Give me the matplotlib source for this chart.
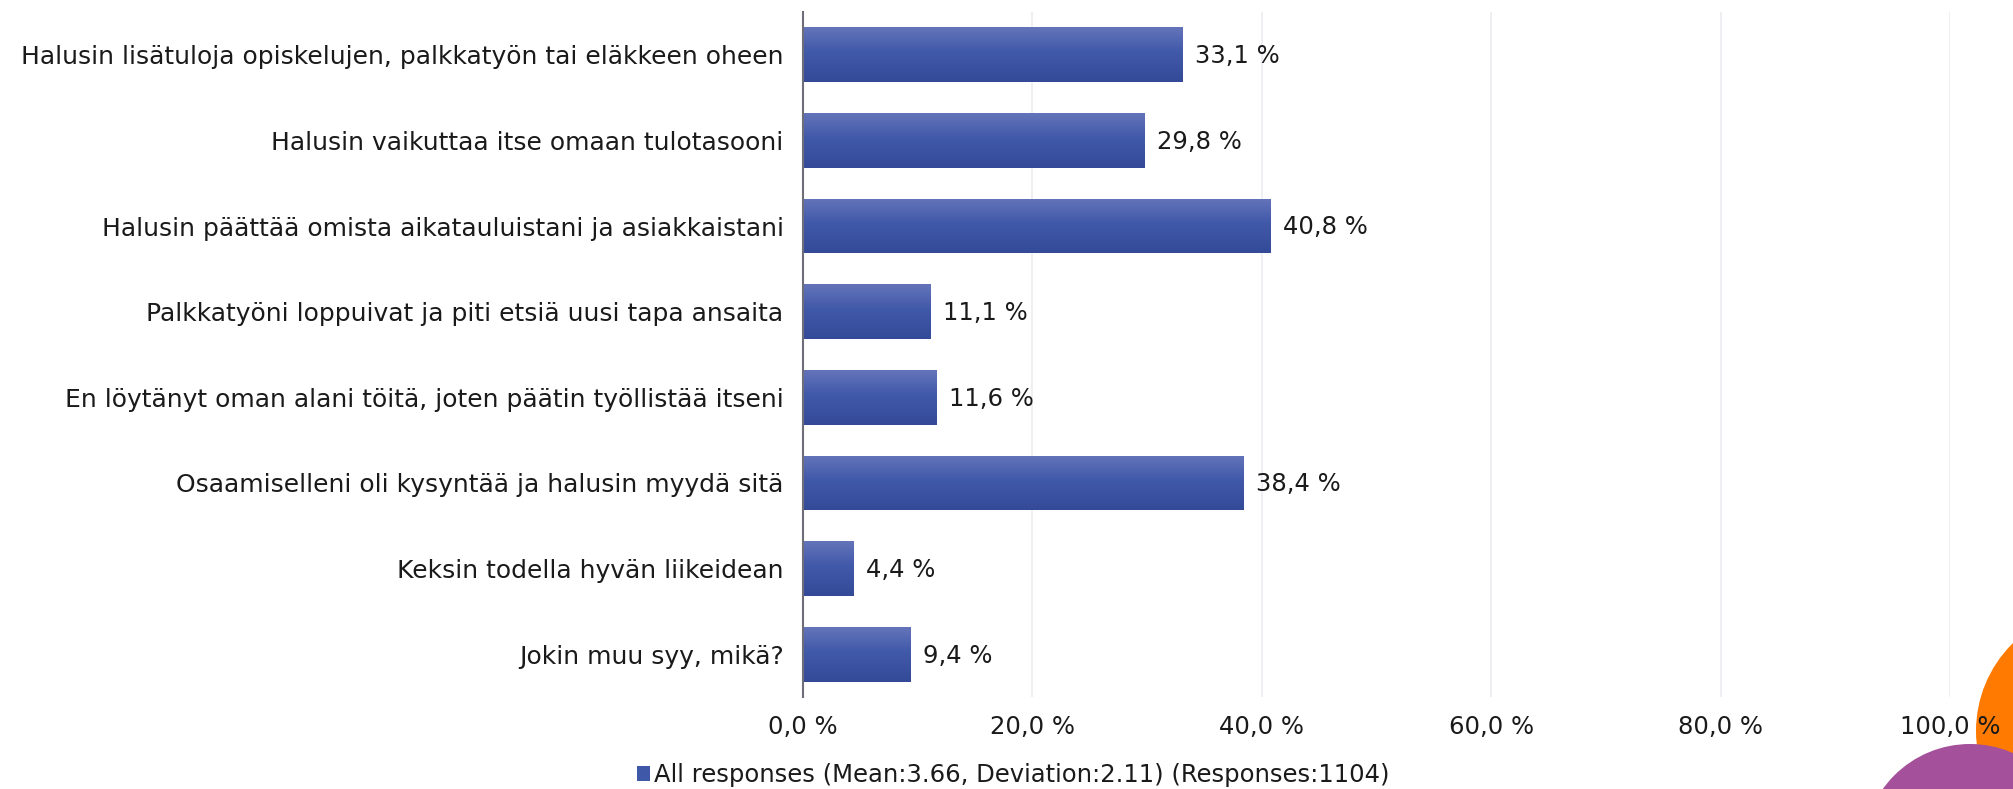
import numpy as np
import matplotlib
matplotlib.use("Agg")
import matplotlib.pyplot as plt
from matplotlib.patches import Patch, Circle
from matplotlib.ticker import FuncFormatter
from matplotlib.colors import LinearSegmentedColormap

plt.rcParams['font.family'] = ['DejaVu Sans']

categories = [
    "Halusin lisätuloja opiskelujen, palkkatyön tai eläkkeen oheen",
    "Halusin vaikuttaa itse omaan tulotasooni",
    "Halusin päättää omista aikatauluistani ja asiakkaistani",
    "Palkkatyöni loppuivat ja piti etsiä uusi tapa ansaita",
    "En löytänyt oman alani töitä, joten päätin työllistää itseni",
    "Osaamiselleni oli kysyntää ja halusin myydä sitä",
    "Keksin todella hyvän liikeidean",
    "Jokin muu syy, mikä?",
]
values = [33.1, 29.8, 40.8, 11.1, 11.6, 38.4, 4.4, 9.4]
x_ticks = [0, 20, 40, 60, 80, 100]
legend_label = "All responses (Mean:3.66, Deviation:2.11) (Responses:1104)"

FS = 17.5
TXT = '#1a1a1a'
W, H = 2013, 789
fig = plt.figure(figsize=(W / 100, H / 100), dpi=100, facecolor='white')

# decorative corner circles (orange behind text, purple on top)
deco_back = fig.add_axes([0, 0, 1, 1], zorder=0)
deco_back.set_xlim(0, W)
deco_back.set_ylim(H, 0)
deco_back.axis('off')
deco_back.add_patch(Circle((2099, 731), 123, color='#FF7A00', lw=0))

ax = fig.add_axes([803 / W, 1 - 697 / H, (1950 - 803) / W, (697 - 12) / H],
                  zorder=1)
ax.patch.set_alpha(0)

def pct(v, pos=None):
    return f"{v:.1f} %".replace('.', ',')

y = np.arange(len(categories))
bars = ax.barh(y, values, height=0.64, color='#4058A8', zorder=3)

grad = LinearSegmentedColormap.from_list(
    'g', [(0.0, '#6474BA'), (0.45, '#4159A9'), (1.0, '#344A99')])
gimg = np.linspace(0, 1, 128).reshape(-1, 1)
for b in bars:
    x0, y0 = b.get_x(), b.get_y()
    w, h = b.get_width(), b.get_height()
    im = ax.imshow(gimg, cmap=grad, aspect='auto',
                   extent=[x0, x0 + w, y0 + h, y0], zorder=4,
                   interpolation='bilinear')
    im.set_clip_path(b)

for yi, v in zip(y, values):
    ax.annotate(pct(v), xy=(v, yi), xytext=(9, -1), textcoords='offset points',
                va='center', ha='left', fontsize=FS, color=TXT, zorder=5)

ax.set_xlim(0, 100)
ax.set_ylim(len(categories) - 0.5, -0.5)
ax.set_xticks(x_ticks)
ax.xaxis.set_major_formatter(FuncFormatter(pct))
ax.set_yticks(y)
ax.set_yticklabels(categories)
ax.tick_params(axis='y', length=0, pad=14, labelsize=18, labelcolor=TXT)
ax.tick_params(axis='x', length=0, pad=13, labelsize=FS, labelcolor=TXT)
ax.grid(axis='x', color='#EAEBEF', linewidth=1.1, zorder=0)
ax.set_axisbelow(True)
for s in ['top', 'right', 'bottom']:
    ax.spines[s].set_visible(False)
ax.spines['left'].set_color('#6E6E7A')
ax.spines['left'].set_linewidth(1.5)
ax.spines['left'].set_zorder(6)
ax.xaxis.get_gridlines()[0].set_visible(False)

fig.legend(handles=[Patch(facecolor='#4058A8', edgecolor='none')],
           labels=[legend_label], loc='center',
           bbox_to_anchor=(1013 / W, 1 - 775 / H), frameon=False,
           handlelength=0.55, handleheight=0.55, handletextpad=0.15,
           fontsize=FS, labelcolor=TXT)

deco_front = fig.add_axes([0, 0, 1, 1], zorder=10)
deco_front.set_xlim(0, W)
deco_front.set_ylim(H, 0)
deco_front.axis('off')
deco_front.patch.set_alpha(0)
deco_front.add_patch(Circle((1970, 851), 107, color='#A4509A', lw=0))

fig.savefig('out.png', dpi=100, facecolor='white')
